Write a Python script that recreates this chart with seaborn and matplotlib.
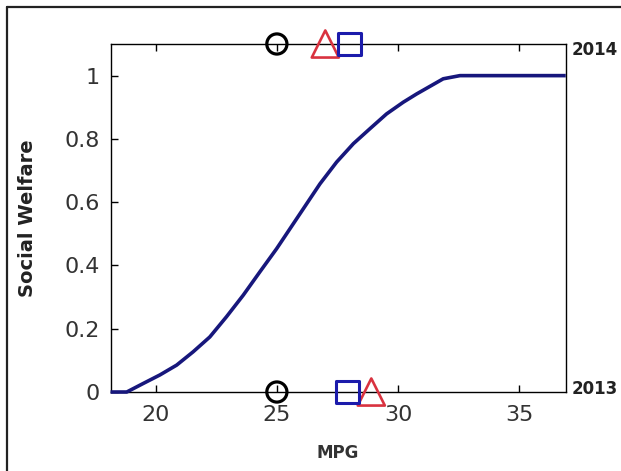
import matplotlib
matplotlib.use("Agg")
import matplotlib.pyplot as plt
import matplotlib.transforms as mtransforms
from matplotlib.lines import Line2D
import seaborn as sns

# Social welfare curve as a function of fleet fuel economy
mpg = [18.13, 18.8, 19.48, 20.17, 20.86, 21.54, 22.23, 22.92, 23.61, 24.3,
       24.99, 25.68, 26.23, 26.78, 27.47, 28.16, 28.84, 29.53, 30.22, 30.77,
       31.87, 32.56, 36.93]
welfare = [0.0, 0.0, 0.027, 0.054, 0.085, 0.127, 0.174, 0.238, 0.306, 0.38,
           0.453, 0.532, 0.595, 0.658, 0.727, 0.785, 0.832, 0.879, 0.916, 0.942,
           0.99, 1.0, 1.0]

# Model-year markers: 2013 sits on the bottom axis, 2014 on the top axis
years = ["2013", "2014"]
year_level = [0.0, 1.1]
circle_mpg = [25.0, 25.0]
triangle_mpg = [28.9, 27.0]
square_mpg = [27.9, 28.0]

x_ticks = [20, 25, 30, 35]
y_ticks = [0, 0.2, 0.4, 0.6, 0.8, 1.0]
y_tick_labels = ["0", "0.2", "0.4", "0.6", "0.8", "1"]

sns.set_style("white")
plt.rcParams["font.family"] = ["DejaVu Sans"]

fig = plt.figure(figsize=(6.21, 4.71), dpi=100)
fig.patch.set_facecolor("white")
ax = fig.add_axes([0.178, 0.1677, 0.733, 0.7389])

navy = "#17177c"
sns.lineplot(x=mpg, y=welfare, color=navy, linewidth=2.6, ax=ax,
             clip_on=False, solid_capstyle="butt", zorder=3)

marker_specs = [
    (circle_mpg, "o", "#000000", 14.5, 2.3),
    (triangle_mpg, "^", "#d9323f", 19.5, 1.9),
    (square_mpg, "s", "#1b1bab", 16.5, 2.2),
]
for xs, mk, col, size, lw in marker_specs:
    sns.scatterplot(x=xs, y=year_level, marker=mk, s=size ** 2,
                    facecolor="none", edgecolor=col, linewidth=lw,
                    clip_on=False, zorder=6, ax=ax, legend=False)

ax.set_xlim(18.13, 36.93)
ax.set_ylim(0, 1.1)
ax.set_xticks(x_ticks)
ax.set_xticklabels([str(t) for t in x_ticks])
ax.set_yticks(y_ticks)
ax.set_yticklabels(y_tick_labels)

ax.tick_params(axis="both", direction="in", length=5, width=1,
               colors="#000000", labelcolor="#333333", labelsize=16)
ax.tick_params(axis="x", top=True, bottom=True, pad=9)
ax.tick_params(axis="y", left=True, right=False, pad=7.5)

for side in ["left", "right", "top", "bottom"]:
    ax.spines[side].set_visible(True)
    ax.spines[side].set_color("#000000")
    ax.spines[side].set_linewidth(1.0)

ax.set_xlabel("MPG", fontsize=12, fontweight="bold", color="#333333")
ax.xaxis.set_label_coords(0.5, -0.148)
ax.set_ylabel("Social Welfare", fontsize=14, fontweight="bold", color="#222222")
ax.yaxis.set_label_coords(-0.162, 0.5)

# Year labels to the right of the axes box
trans = mtransforms.blended_transform_factory(ax.transAxes, ax.transData)
ax.text(1.012, 1.082, years[1], transform=trans, ha="left", va="center",
        fontsize=12, fontweight="bold", color="#222222")
ax.text(1.012, 0.01, years[0], transform=trans, ha="left", va="center",
        fontsize=12, fontweight="bold", color="#222222")

# Window frame on the left and top edges
fx = 7 / 621
fy = 1 - 7 / 471
fig.add_artist(Line2D([fx, fx], [0, fy], transform=fig.transFigure,
                      color="#222222", linewidth=1.6))
fig.add_artist(Line2D([fx, 1], [fy, fy], transform=fig.transFigure,
                      color="#222222", linewidth=1.6))

fig.savefig("out.png", dpi=100, facecolor="white")
